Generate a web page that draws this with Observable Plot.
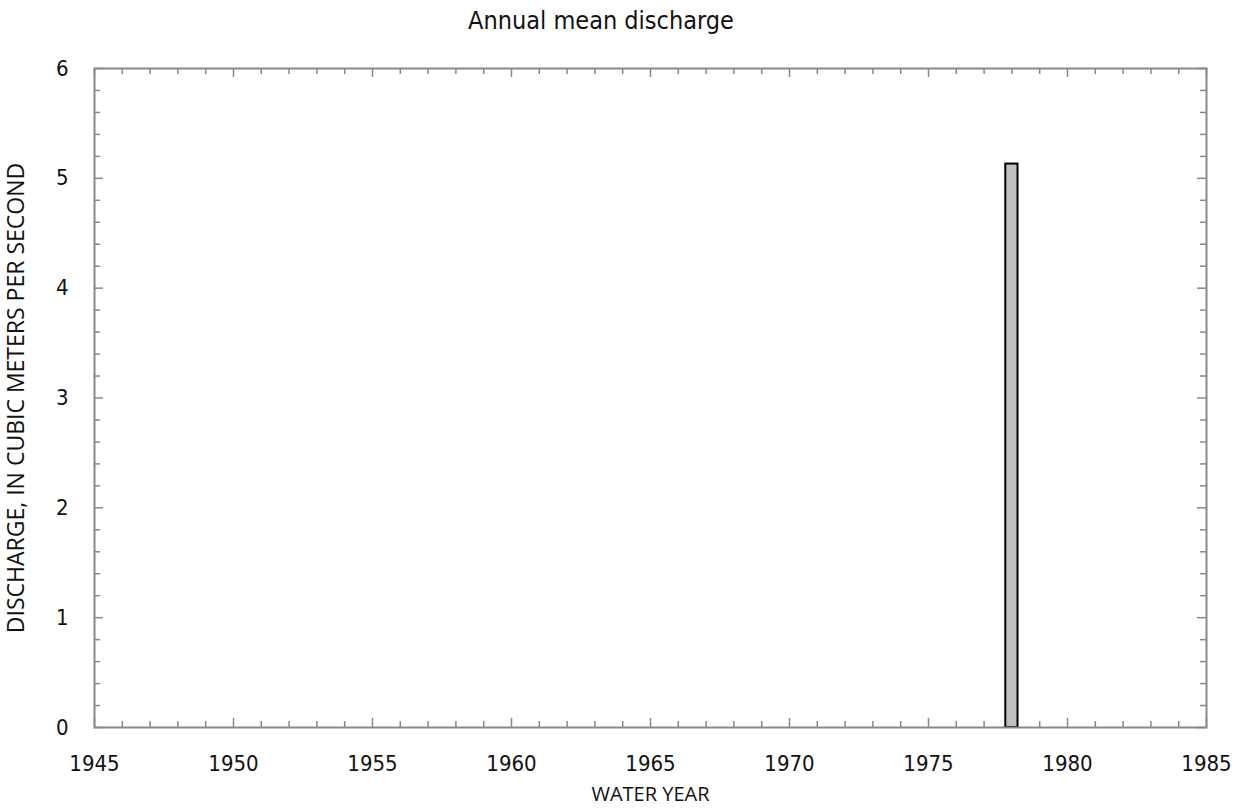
<!DOCTYPE html>
<html>
<head>
<meta charset="utf-8">
<script src="https://cdn.jsdelivr.net/npm/d3@7"></script>
<script src="https://cdn.jsdelivr.net/npm/@observablehq/plot@0.6"></script>
<style>
  html, body { margin: 0; padding: 0; background: #fff; }
  #title { width: 1202px; height: 50px; box-sizing: border-box; padding-top: 8px; text-align: center;
           font-family: "Liberation Sans Narrow", "DejaVu Sans Condensed", sans-serif;
           font-size: 25px; color: #111; line-height: 26px; white-space: nowrap; }
  #chart svg { display: block; }
</style>
</head>
<body>
<div id="title">Annual mean discharge</div>
<div id="chart"></div>
<script>
// Data
const waterYears = [1978];
const discharge = [5.13];
const xTickLabels = [1945, 1950, 1955, 1960, 1965, 1970, 1975, 1980, 1985];
const yTickLabels = [0, 1, 2, 3, 4, 5, 6];
const xTitle = "WATER YEAR";
const yTitle = "DISCHARGE, IN CUBIC METERS PER SECOND";

const bars = waterYears.map((y, i) => ({year: y, value: discharge[i]}));

const W = 1245, H = 759;
const mL = 94, mR = 39, mT = 18, mB = 82;
const plotW = W - mL - mR, plotH = H - mT - mB;
const minorLen = 6, majorLen = 9;

const minorYears = d3.range(1945, 1986).filter(d => d % 5 !== 0);
const majorYears = d3.range(1945, 1986, 5);
const minorY = d3.range(0, 31).map(i => i / 5).filter((d, i) => i % 5 !== 0);
const majorY = d3.range(0, 7);

const tickStyle = {stroke: "#888", strokeWidth: 1.5};
const narrow = "'Liberation Sans Narrow', 'DejaVu Sans Condensed', sans-serif";
const sans = "'Open Sans', 'Noto Sans', sans-serif";

const chart = Plot.plot({
  width: W, height: H,
  marginLeft: mL, marginRight: mR, marginTop: mT, marginBottom: mB,
  x: {domain: [1945, 1985], axis: null},
  y: {domain: [0, 6], axis: null},
  marks: [
    // inward ticks: bottom and top
    Plot.tickX(minorYears, {x: d => d, insetTop: plotH - minorLen, ...tickStyle}),
    Plot.tickX(majorYears, {x: d => d, insetTop: plotH - majorLen, ...tickStyle}),
    Plot.tickX(minorYears, {x: d => d, insetBottom: plotH - minorLen, ...tickStyle}),
    Plot.tickX(majorYears, {x: d => d, insetBottom: plotH - majorLen, ...tickStyle}),
    // inward ticks: left and right
    Plot.tickY(minorY, {y: d => d, insetRight: plotW - minorLen, ...tickStyle}),
    Plot.tickY(majorY, {y: d => d, insetRight: plotW - majorLen, ...tickStyle}),
    Plot.tickY(minorY, {y: d => d, insetLeft: plotW - minorLen, ...tickStyle}),
    Plot.tickY(majorY, {y: d => d, insetLeft: plotW - majorLen, ...tickStyle}),
    // bars
    Plot.rectY(bars, {x1: d => d.year - 0.22, x2: d => d.year + 0.22, y: "value",
      fill: "#c0c0c0", stroke: "#000", strokeWidth: 2}),
    Plot.frame({stroke: "#888", strokeWidth: 2}),
    // tick labels
    Plot.axisX({ticks: xTickLabels, tickFormat: d => String(d), tickSize: 0, tickPadding: 28,
      label: null, fontSize: 22, fontFamily: narrow, color: "#111"}),
    Plot.axisY({ticks: yTickLabels, tickFormat: d => String(d), tickSize: 0, tickPadding: 26,
      label: null, fontSize: 22, fontFamily: narrow, color: "#111"}),
    // axis titles
    Plot.text([xTitle], {text: d => d, frameAnchor: "bottom", textAnchor: "middle", lineAnchor: "middle", dy: 67,
      fontSize: 20, fontFamily: sans, fill: "#111"}),
    Plot.text([yTitle], {text: d => d, frameAnchor: "left", textAnchor: "middle", lineAnchor: "top", rotate: -90, dx: -87,
      fontSize: 23, fontFamily: sans, fill: "#111"})
  ]
});
document.getElementById("chart").appendChild(chart);
</script>
</body>
</html>
